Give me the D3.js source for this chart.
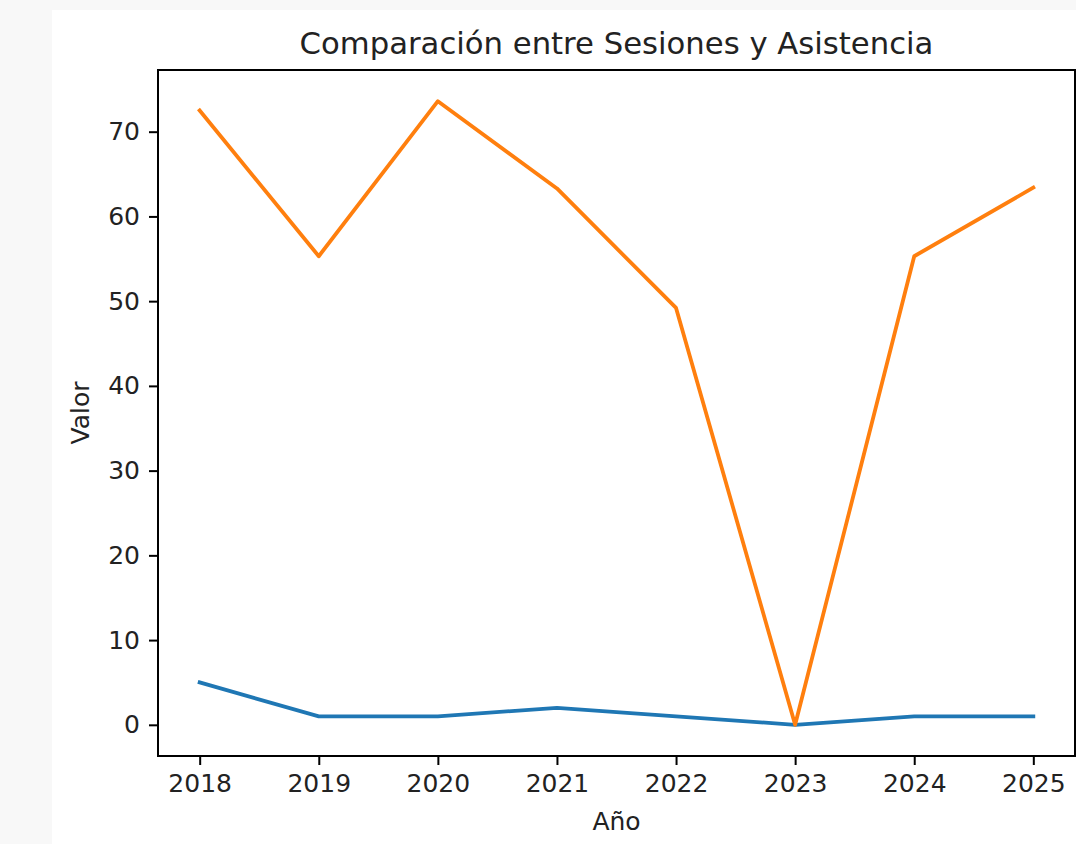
<!DOCTYPE html>
<html lang="es">
<head>
	<meta charset="utf-8">
	<script src="https://d3js.org/d3.v7.min.js"></script>
	<style>
		body { margin: 0; background: #f8f8f8; font-family: "DejaVu Sans", sans-serif; }
		svg { display: block; }
	</style>
</head>
<body>
	<script type="text/javascript">

		var years = [2018, 2019, 2020, 2021, 2022, 2023, 2024, 2025];
		var sesiones = [5, 1, 1, 2, 1, 0, 1, 1];
		var asistencia = [72.5, 55.3, 73.6, 63.3, 49.2, 0, 55.3, 63.4];
		var yTicks = [0, 10, 20, 30, 40, 50, 60, 70];

		var svgWidth = 1076;
		var svgHeight = 844;

		// axes box (pixels)
		var axLeft = 158, axRight = 1075, axTop = 70, axBottom = 756;

		var svg = d3.select("body")
			.append("svg")
			.attr("width", svgWidth)
			.attr("height", svgHeight);

		// white figure panel
		svg.append("rect")
			.attr("x", 52)
			.attr("y", 10)
			.attr("width", svgWidth - 52)
			.attr("height", svgHeight - 10)
			.attr("fill", "#fff");

		//scales with matplotlib-like 5% margins
		var xMin = d3.min(years), xMax = d3.max(years);
		var xPad = (xMax - xMin) * 0.05;
		var x = d3.scaleLinear()
			.domain([xMin - xPad, xMax + xPad])
			.range([axLeft, axRight]);

		var yMin = Math.min(d3.min(sesiones), d3.min(asistencia));
		var yMax = Math.max(d3.max(sesiones), d3.max(asistencia));
		var yPad = (yMax - yMin) * 0.05;
		var y = d3.scaleLinear()
			.domain([yMin - yPad, yMax + yPad])
			.range([axBottom, axTop]);

		//axes
		var xAxis = d3.axisBottom(x)
			.tickValues(years)
			.tickFormat(d3.format("d"))
			.tickSizeInner(9)
			.tickSizeOuter(0)
			.tickPadding(9);

		var yAxis = d3.axisLeft(y)
			.tickValues(yTicks)
			.tickFormat(d3.format("d"))
			.tickSizeInner(9)
			.tickSizeOuter(0)
			.tickPadding(9);

		var gx = svg.append("g")
			.attr("transform", "translate(0," + axBottom + ")")
			.call(xAxis);

		var gy = svg.append("g")
			.attr("transform", "translate(" + axLeft + ",0)")
			.call(yAxis);

		[gx, gy].forEach(function(g) {
			g.select(".domain").remove();
			g.selectAll("line").attr("stroke", "#000").attr("stroke-width", 2);
			g.selectAll("text")
				.attr("fill", "#222")
				.style("font-family", "DejaVu Sans")
				.style("font-size", "25px");
		});

		//lines
		var line = d3.line()
			.x(function(d, i) { return x(years[i]); })
			.y(function(d) { return y(d); });

		svg.append("path")
			.datum(sesiones)
			.attr("fill", "none")
			.attr("stroke", "#1f77b4")
			.attr("stroke-width", 3.8)
			.attr("stroke-linejoin", "round")
			.attr("stroke-linecap", "square")
			.attr("d", line);

		svg.append("path")
			.datum(asistencia)
			.attr("fill", "none")
			.attr("stroke", "#ff7f0e")
			.attr("stroke-width", 3.8)
			.attr("stroke-linejoin", "round")
			.attr("stroke-linecap", "square")
			.attr("d", line);

		//frame
		svg.append("rect")
			.attr("x", axLeft)
			.attr("y", axTop)
			.attr("width", axRight - axLeft)
			.attr("height", axBottom - axTop)
			.attr("fill", "none")
			.attr("stroke", "#000")
			.attr("stroke-width", 2);

		//texts
		svg.append("text")
			.attr("x", (axLeft + axRight) / 2)
			.attr("y", 54)
			.attr("text-anchor", "middle")
			.attr("fill", "#222")
			.style("font-size", "30.7px")
			.text("Comparación entre Sesiones y Asistencia");

		svg.append("text")
			.attr("x", (axLeft + axRight) / 2)
			.attr("y", 830)
			.attr("text-anchor", "middle")
			.attr("fill", "#222")
			.style("font-size", "25px")
			.text("Año");

		svg.append("text")
			.attr("transform", "translate(89," + ((axTop + axBottom) / 2) + ") rotate(-90)")
			.attr("text-anchor", "middle")
			.attr("fill", "#222")
			.style("font-size", "25px")
			.text("Valor");

	</script>
</body>
</html>
